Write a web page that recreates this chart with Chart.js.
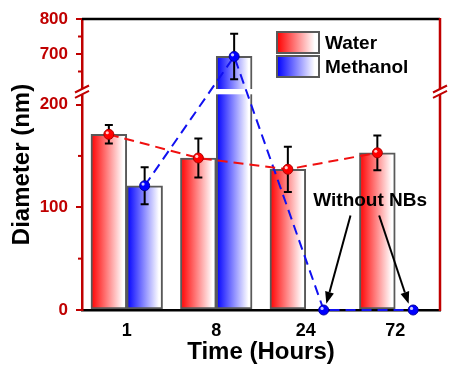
<!DOCTYPE html>
<html>
<head>
<meta charset="utf-8">
<script src="https://cdn.jsdelivr.net/npm/chart.js@4.4.1/dist/chart.umd.min.js"></script>
<style>
  html, body { margin: 0; padding: 0; background: #fff; }
  canvas { display: block; }
</style>
</head>
<body>
<canvas id="chart" width="453" height="380"></canvas>
<script>
// 数据
const TIMES = ['1', '8', '24', '72'];
const WATER = [171, 148, 137, 153];
const WATER_ERR = [9, 19, 22, 17];
const METHANOL = [121, 693, 0, 0];
const METHANOL_ERR = [18, 65, null, null];
const Y_TICKS = [0, 100, 200, 700, 800];
const Y_MINOR = [50, 150, 650, 750];
const BREAK_LOW = 210;
const BREAK_HIGH = 600;
const Y_MAX = 800;
const NOTE_TEXT = 'Without NBs';

// 样式
const FONT = "'Liberation Sans', Arial, sans-serif";
const AXIS_RED = '#c00000';
const BAR_OFFSET = 0.2;            // 每根柱子占组宽的 0.4，中心偏移 0.2
const SEG = { low: 215.7, gap: 5.3, high: 70 };  // 断轴各段的相对高度

// 断轴刻度
class BrokenScale extends Chart.LinearScale {
  _segs() {
    const h = this.bottom - this.top;
    const total = SEG.low + SEG.gap + SEG.high;
    return { low: h * SEG.low / total, gap: h * SEG.gap / total, high: h * SEG.high / total };
  }
  getPixelForValue(value) {
    if (value === null || value === undefined || isNaN(value)) return NaN;
    const s = this._segs();
    if (value <= BREAK_LOW) return this.bottom - value / BREAK_LOW * s.low;
    if (value >= BREAK_HIGH) return this.top + (Y_MAX - value) / (Y_MAX - BREAK_HIGH) * s.high;
    return this.bottom - s.low - (value - BREAK_LOW) / (BREAK_HIGH - BREAK_LOW) * s.gap;
  }
  getValueForPixel(pixel) {
    const s = this._segs();
    const fromBottom = this.bottom - pixel;
    if (fromBottom <= s.low) return fromBottom / s.low * BREAK_LOW;
    if (fromBottom <= s.low + s.gap) return BREAK_LOW + (fromBottom - s.low) / s.gap * (BREAK_HIGH - BREAK_LOW);
    return Y_MAX - (pixel - this.top) / s.high * (Y_MAX - BREAK_HIGH);
  }
}
BrokenScale.id = 'broken';
BrokenScale.defaults = Chart.LinearScale.defaults;
Chart.register(BrokenScale);

// 横向渐变：左边纯色 -> 右边白色
function fadeGradient(ctx, left, width, color) {
  const g = ctx.createLinearGradient(left, 0, left + width, 0);
  g.addColorStop(0, color);
  g.addColorStop(0.9, '#ffffff');
  g.addColorStop(1, '#ffffff');
  return g;
}

// 柱子渐变填充、断轴间隙、误差线
const barGradient = {
  id: 'barGradient',
  beforeDatasetsDraw(chart) {
    const ctx = chart.ctx;
    chart.data.datasets.forEach((ds, i) => {
      const meta = chart.getDatasetMeta(i);
      if (meta.type !== 'bar') return;
      meta.data.forEach(el => {
        const g = fadeGradient(ctx, el.x - el.width / 2, el.width, ds.gradFrom);
        el.options = Object.assign({}, el.options, { backgroundColor: g });
      });
    });
    chart.$bandDone = false;
  },
  beforeDatasetDraw(chart, args) {
    if (args.meta.type !== 'line' || chart.$bandDone) return;
    chart.$bandDone = true;
    const { ctx, chartArea } = chart;
    const y = chart.scales.y, x2 = chart.scales.x2;
    const yTop = y.getPixelForValue(BREAK_HIGH);
    const yBot = y.getPixelForValue(BREAK_LOW);
    ctx.save();
    ctx.fillStyle = '#ffffff';
    ctx.fillRect(chartArea.left + 1, yTop, chartArea.right - chartArea.left - 2, yBot - yTop);
    ctx.strokeStyle = '#000';
    ctx.lineWidth = 2;
    const series = [[WATER, WATER_ERR, -BAR_OFFSET], [METHANOL, METHANOL_ERR, BAR_OFFSET]];
    series.forEach(([vals, errs, off]) => {
      vals.forEach((v, i) => {
        if (errs[i] == null) return;
        const px = x2.getPixelForValue(i + off);
        const p1 = y.getPixelForValue(v + errs[i]);
        const p2 = y.getPixelForValue(v - errs[i]);
        ctx.beginPath();
        ctx.moveTo(px, p1); ctx.lineTo(px, p2);
        ctx.moveTo(px - 4, p1); ctx.lineTo(px + 4, p1);
        ctx.moveTo(px - 4, p2); ctx.lineTo(px + 4, p2);
        ctx.stroke();
      });
    });
    ctx.restore();
  },
  afterDatasetDraw(chart, args) {
    if (args.meta.type !== 'line') return;
    const ctx = chart.ctx;
    ctx.save();
    ctx.fillStyle = 'rgba(255,255,255,0.8)';
    args.meta.data.forEach(pt => {
      ctx.beginPath();
      ctx.arc(pt.x - 1.6, pt.y - 1.6, 1.6, 0, Math.PI * 2);
      ctx.fill();
    });
    ctx.restore();
  }
};

// 边框、断轴标记、图例、注释
const decorations = {
  id: 'decorations',
  afterDraw(chart) {
    const { ctx, chartArea } = chart;
    const { left, right, top, bottom } = chartArea;
    const y = chart.scales.y, x2 = chart.scales.x2;
    const yTop = y.getPixelForValue(BREAK_HIGH);
    const yBot = y.getPixelForValue(BREAK_LOW);
    ctx.save();

    // 上边框
    ctx.strokeStyle = '#000';
    ctx.lineWidth = 2.5;
    ctx.beginPath();
    ctx.moveTo(left, top); ctx.lineTo(right, top);
    ctx.stroke();

    // 右边框
    ctx.strokeStyle = AXIS_RED;
    ctx.lineWidth = 2.5;
    ctx.beginPath();
    ctx.moveTo(right, top - 1); ctx.lineTo(right, bottom + 1);
    ctx.stroke();

    // 小刻度
    ctx.lineWidth = 2;
    Y_MINOR.forEach(v => {
      const py = y.getPixelForValue(v);
      ctx.beginPath();
      ctx.moveTo(left - 4, py); ctx.lineTo(left, py);
      ctx.stroke();
    });

    // 断轴符号
    [left, right].forEach(ax => {
      ctx.fillStyle = '#ffffff';
      ctx.fillRect(ax - 2, yTop, 4, yBot - yTop);
      ctx.strokeStyle = AXIS_RED;
      ctx.lineWidth = 2;
      [yTop, yBot].forEach(py => {
        ctx.beginPath();
        ctx.moveTo(ax - 7, py + 3.5);
        ctx.lineTo(ax + 7, py - 3.5);
        ctx.stroke();
      });
    });

    // 图例
    const legend = [['Water', '#ff0000'], ['Methanol', '#0000ff']];
    ctx.font = 'bold 19px ' + FONT;
    ctx.textBaseline = 'middle';
    ctx.textAlign = 'left';
    legend.forEach(([label, col], i) => {
      const bx = 277, by = 32 + i * 24, bw = 42, bh = 21;
      ctx.fillStyle = fadeGradient(ctx, bx, bw, col);
      ctx.fillRect(bx, by, bw, bh);
      ctx.strokeStyle = '#595959';
      ctx.lineWidth = 2;
      ctx.strokeRect(bx, by, bw, bh);
      ctx.fillStyle = '#000';
      ctx.fillText(label, bx + bw + 6, by + bh / 2 + 1);
    });

    // 注释 Without NBs
    ctx.textAlign = 'center';
    ctx.fillStyle = '#000';
    ctx.fillText(NOTE_TEXT, x2.getPixelForValue(2.72), y.getPixelForValue(106));
    const arrows = [[2.50, 92, 2.23, 6], [2.82, 92, 3.15, 6]];
    ctx.strokeStyle = '#000';
    ctx.lineWidth = 2;
    arrows.forEach(([xa, ya, xb, yb]) => {
      const x0 = x2.getPixelForValue(xa), y0 = y.getPixelForValue(ya);
      const x1 = x2.getPixelForValue(xb), y1 = y.getPixelForValue(yb);
      const ang = Math.atan2(y1 - y0, x1 - x0);
      const hl = 12, hw = 4.5;
      const bxp = x1 - hl * Math.cos(ang), byp = y1 - hl * Math.sin(ang);
      ctx.beginPath();
      ctx.moveTo(x0, y0); ctx.lineTo(bxp, byp);
      ctx.stroke();
      ctx.beginPath();
      ctx.moveTo(x1, y1);
      ctx.lineTo(bxp + hw * Math.sin(ang), byp - hw * Math.cos(ang));
      ctx.lineTo(bxp - hw * Math.sin(ang), byp + hw * Math.cos(ang));
      ctx.closePath();
      ctx.fill();
    });

    ctx.restore();
  }
};

// 柱和折线都放在隐藏的线性 x2 轴上，位置为 组序号 ± 偏移
const xyData = (vals, off) => vals.map((v, i) => ({ x: i + off, y: v }));

new Chart(document.getElementById('chart'), {
  type: 'bar',
  data: {
    labels: TIMES,
    datasets: [
      {
        type: 'bar', label: 'Water', data: xyData(WATER, -BAR_OFFSET), xAxisID: 'x2', gradFrom: '#ff0000',
        backgroundColor: '#ff8080', borderColor: '#595959', borderWidth: 2, borderSkipped: false,
        grouped: false, categoryPercentage: 1.0, barPercentage: 1.0, order: 2
      },
      {
        type: 'bar', label: 'Methanol', data: xyData(METHANOL, BAR_OFFSET), xAxisID: 'x2', gradFrom: '#0000ff',
        backgroundColor: '#8080ff', borderColor: '#595959', borderWidth: 2, borderSkipped: false,
        grouped: false, categoryPercentage: 1.0, barPercentage: 1.0, order: 2
      },
      {
        type: 'line', label: 'Water line', data: xyData(WATER, -BAR_OFFSET), xAxisID: 'x2',
        borderColor: '#f01010', borderWidth: 2, borderDash: [10, 6], fill: false,
        pointRadius: 5, pointBackgroundColor: '#ff0000', pointBorderColor: '#b00000',
        pointBorderWidth: 1, clip: false, order: 1
      },
      {
        type: 'line', label: 'Methanol line', data: xyData(METHANOL, BAR_OFFSET), xAxisID: 'x2',
        borderColor: '#1010f0', borderWidth: 2, borderDash: [10, 6], fill: false,
        pointRadius: 5, pointBackgroundColor: '#0000ff', pointBorderColor: '#0000a0',
        pointBorderWidth: 1, clip: false, order: 1
      }
    ]
  },
  options: {
    responsive: false,
    animation: false,
    events: [],
    layout: { padding: { left: 0, right: 13, top: 19, bottom: 0 } },
    plugins: { legend: { display: false }, tooltip: { enabled: false } },
    scales: {
      x: {
        type: 'category',
        offset: true,
        grid: { display: false, drawTicks: false },
        border: { color: '#000', width: 2.5 },
        ticks: { color: '#000', font: { family: FONT, size: 18, weight: 'bold' }, padding: 10 },
        title: {
          display: true, text: 'Time (Hours)', color: '#000',
          font: { family: FONT, size: 24, weight: 'bold' }, padding: { top: 0, bottom: 13 }
        },
        afterFit: s => { s.height = 70; }
      },
      x2: {
        type: 'linear', min: -0.5, max: 3.5, offset: false, display: false,
        ticks: { stepSize: 1 }, grid: { offset: false }
      },
      y: {
        type: 'broken',
        min: 0, max: Y_MAX,
        afterBuildTicks: s => { s.ticks = Y_TICKS.map(v => ({ value: v })); },
        grid: { drawOnChartArea: false, color: AXIS_RED, lineWidth: 2, tickLength: 6 },
        border: { color: AXIS_RED, width: 2.5 },
        ticks: { color: AXIS_RED, font: { family: FONT, size: 17, weight: 'bold' }, padding: 8 },
        title: {
          display: true, text: 'Diameter (nm)', color: '#000',
          font: { family: FONT, size: 24, weight: 'bold' }, padding: { top: 8, bottom: 0 }
        },
        afterFit: s => { s.width = 82; }
      }
    }
  },
  plugins: [barGradient, decorations]
});
</script>
</body>
</html>
